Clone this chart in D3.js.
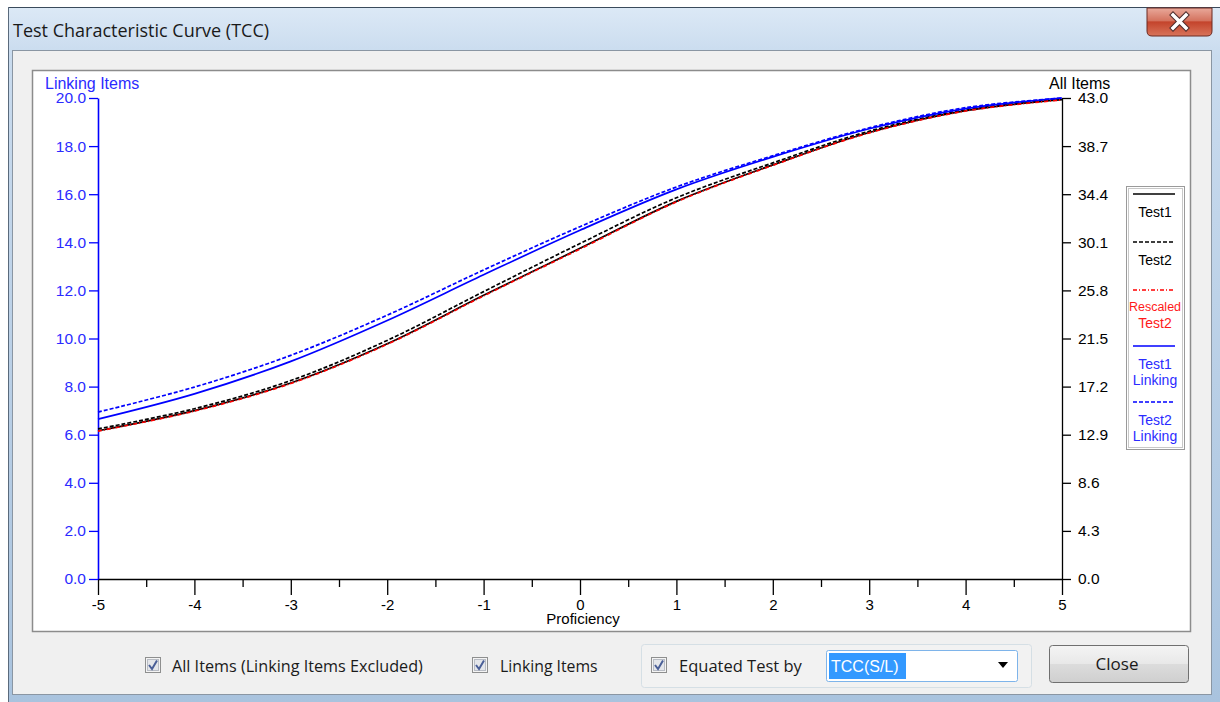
<!DOCTYPE html>
<html>
<head>
<meta charset="utf-8">
<script src="https://cdn.jsdelivr.net/npm/d3@7"></script>
<style>
  body { margin: 0; background: #fff; }
  svg { display: block; }
</style>
</head>
<body>
<svg id="svg1" width="1220" height="702"></svg>
<script>
// values
var proficiency = [-5, -4, -3, -2, -1, 0, 1, 2, 3, 4, 5];

// linking items, left axis (0 - 20)
var test1Linking = [6.65, 7.70, 9.05, 10.75, 12.65, 14.50, 16.20, 17.55, 18.72, 19.56, 20.0];
var test2Linking = [6.94, 7.98, 9.30, 10.97, 12.85, 14.65, 16.30, 17.60, 18.76, 19.60, 20.0];

// all items, right axis (0 - 43)
var test1All  = [13.25, 15.05, 17.52, 21.03, 25.36, 29.56, 33.76, 37.02, 39.92, 41.87, 42.86];
var test2All  = [13.42, 15.22, 17.74, 21.33, 25.69, 29.99, 34.08, 37.20, 40.03, 41.93, 42.91];
var rescaled2 = [13.22, 15.01, 17.48, 20.98, 25.31, 29.50, 33.71, 36.98, 39.88, 41.84, 42.83];

var leftTicks  = [0, 2, 4, 6, 8, 10, 12, 14, 16, 18, 20];
var rightTicks = [0, 4.3, 8.6, 12.9, 17.2, 21.5, 25.8, 30.1, 34.4, 38.7, 43.0];
var xTicks     = [-5, -4, -3, -2, -1, 0, 1, 2, 3, 4, 5];
var xMinor     = [-4.5, -3.5, -2.5, -1.5, -0.5, 0.5, 1.5, 2.5, 3.5, 4.5];

var series = [
  { name: "Test1",   values: test1All,     axis: "right", color: "#000", dash: null },
  { name: "Test2",   values: test2All,     axis: "right", color: "#000", dash: "4,2" },
  { name: "Rescaled Test2", values: rescaled2, axis: "right", color: "#ff0000", dash: "4,2,1,2" },
  { name: "Test1 Linking", values: test1Linking, axis: "left", color: "#0000ff", dash: null },
  { name: "Test2 Linking", values: test2Linking, axis: "left", color: "#0000ff", dash: "4,2" }
];

var svg = d3.select('svg');
var defs = svg.append('defs');

// ---- window chrome ----
var g1 = defs.append('linearGradient').attr('id', 'frame').attr('x1', 0).attr('y1', 0).attr('x2', 0).attr('y2', 1);
g1.append('stop').attr('offset', '0').attr('stop-color', '#dce9f6');
g1.append('stop').attr('offset', '0.07').attr('stop-color', '#c9dbee');
g1.append('stop').attr('offset', '1').attr('stop-color', '#a9c3de');

var g2 = defs.append('linearGradient').attr('id', 'xbtn').attr('x1', 0).attr('y1', 0).attr('x2', 0).attr('y2', 1);
g2.append('stop').attr('offset', '0').attr('stop-color', '#e9a99b');
g2.append('stop').attr('offset', '0.45').attr('stop-color', '#d4735f');
g2.append('stop').attr('offset', '0.5').attr('stop-color', '#c4442c');
g2.append('stop').attr('offset', '1').attr('stop-color', '#d8745a');

var g3 = defs.append('linearGradient').attr('id', 'btn').attr('x1', 0).attr('y1', 0).attr('x2', 0).attr('y2', 1);
g3.append('stop').attr('offset', '0').attr('stop-color', '#f4f4f4');
g3.append('stop').attr('offset', '0.5').attr('stop-color', '#e8e8e8');
g3.append('stop').attr('offset', '0.51').attr('stop-color', '#dcdcdc');
g3.append('stop').attr('offset', '1').attr('stop-color', '#cfcfcf');

svg.append('rect').attr('x', 8).attr('y', 7).attr('width', 1212).attr('height', 695)
   .attr('fill', 'url(#frame)');
svg.append('line').attr('x1', 8).attr('x2', 1220).attr('y1', 7.5).attr('y2', 7.5)
   .attr('stroke', '#3a4a5c').attr('stroke-width', 1);
svg.append('line').attr('x1', 8.5).attr('x2', 8.5).attr('y1', 7).attr('y2', 702)
   .attr('stroke', '#5a6a7c').attr('stroke-width', 1);

svg.append('text').attr('x', 13).attr('y', 37)
   .attr('font-family', 'Open Sans, Noto Sans, sans-serif').attr('font-size', 18)
   .attr('fill', '#1a1a1a').text('Test Characteristic Curve (TCC)');

// red close box
svg.append('path')
   .attr('d', 'M1147,8 H1212 V31 Q1212,36 1207,36 H1152 Q1147,36 1147,31 Z')
   .attr('fill', 'url(#xbtn)').attr('stroke', '#6b2a22').attr('stroke-width', 1);
svg.append('path').attr('d', 'M1173,15 L1186,28 M1186,15 L1173,28')
   .attr('stroke', '#4b2a2a').attr('stroke-width', 5.5).attr('stroke-linecap', 'square');
svg.append('path').attr('d', 'M1173,15 L1186,28 M1186,15 L1173,28')
   .attr('stroke', '#fff').attr('stroke-width', 3.5).attr('stroke-linecap', 'square');

// client area
svg.append('rect').attr('x', 12.5).attr('y', 50.5).attr('width', 1199).attr('height', 644)
   .attr('fill', '#f0f0f0').attr('stroke', '#8a96a3');

// chart panel
svg.append('rect').attr('x', 32.5).attr('y', 70.5).attr('width', 1158).attr('height', 561)
   .attr('fill', '#fff').attr('stroke', '#8c8c8c').attr('stroke-width', 1.5);

// ---- scales ----
var x = d3.scaleLinear().domain([-5, 5]).range([98, 1062]);
var yL = d3.scaleLinear().domain([0, 20]).range([579, 98]);
var yR = d3.scaleLinear().domain([0, 43]).range([579, 98]);

var tickFont = 'Liberation Sans, Arial, sans-serif';

// x axis minor ticks
svg.append('g').attr('transform', 'translate(0,579)')
   .call(d3.axisBottom(x).tickValues(xMinor).tickSize(8).tickFormat('').tickSizeOuter(0))
   .call(function(g) { g.select('.domain').remove(); })
   .selectAll('line').attr('stroke', '#000').attr('stroke-width', 1.3);

var xAxis = svg.append('g').attr('transform', 'translate(0,579)')
   .call(d3.axisBottom(x).tickValues(xTicks).tickSize(16).tickSizeOuter(0)
           .tickFormat(function(d) { return String(d); }));
xAxis.select('.domain').attr('stroke', '#000').attr('stroke-width', 1.3);
xAxis.selectAll('line').attr('stroke', '#000').attr('stroke-width', 1.3);
xAxis.selectAll('text').attr('y', 20).attr('font-family', tickFont).attr('font-size', 15).attr('fill', '#000');

svg.append('text').attr('x', 583).attr('y', 624).attr('text-anchor', 'middle')
   .attr('font-family', tickFont).attr('font-size', 15).attr('fill', '#000').text('Proficiency');

// left axis
var leftAxis = svg.append('g').attr('transform', 'translate(98,0)')
   .call(d3.axisLeft(yL).tickValues(leftTicks).tickSize(9).tickPadding(3).tickSizeOuter(0).tickFormat(d3.format('.1f')));
leftAxis.select('.domain').attr('stroke', '#0000ff').attr('stroke-width', 1.6);
leftAxis.selectAll('line').attr('stroke', '#0000ff').attr('stroke-width', 1.3);
leftAxis.selectAll('text').attr('font-family', tickFont).attr('font-size', 15.5).attr('fill', '#2b2bff');

svg.append('text').attr('x', 45).attr('y', 89)
   .attr('font-family', tickFont).attr('font-size', 16).attr('fill', '#2b2bff').text('Linking Items');

// right axis
var rightAxis = svg.append('g').attr('transform', 'translate(1062,0)')
   .call(d3.axisRight(yR).tickValues(rightTicks).tickSize(9).tickPadding(7).tickSizeOuter(0).tickFormat(d3.format('.1f')));
rightAxis.select('.domain').attr('stroke', '#000').attr('stroke-width', 1.3);
rightAxis.selectAll('line').attr('stroke', '#000').attr('stroke-width', 1.3);
rightAxis.selectAll('text').attr('font-family', tickFont).attr('font-size', 15.5).attr('fill', '#000');

svg.append('text').attr('x', 1049).attr('y', 89)
   .attr('font-family', tickFont).attr('font-size', 16).attr('fill', '#000').text('All Items');

// ---- curves ----
series.forEach(function(s) {
  var y = s.axis == 'left' ? yL : yR;
  var line = d3.line()
               .x(function(d, i) { return x(proficiency[i]); })
               .y(function(d) { return y(d); })
               .curve(d3.curveCatmullRom.alpha(0.5));
  svg.append('path')
     .datum(s.values)
     .attr('d', line)
     .attr('fill', 'none')
     .attr('stroke', s.color)
     .attr('stroke-width', 1.7)
     .attr('stroke-dasharray', s.dash);
});

// ---- legend ----
var legend = svg.append('g');
legend.append('rect').attr('x', 1126.5).attr('y', 186.5).attr('width', 58).attr('height', 263)
      .attr('fill', '#fff').attr('stroke', '#9a9a9a');
legend.append('rect').attr('x', 1128.5).attr('y', 188.5).attr('width', 54).attr('height', 259)
      .attr('fill', 'none').attr('stroke', '#c8c8c8');

var legendRows = [
  { lineY: 194, lines: [['Test1', 212, 14]] },
  { lineY: 242, lines: [['Test2', 260, 14]] },
  { lineY: 290, lines: [['Rescaled', 306, 12.5], ['Test2', 323, 14]] },
  { lineY: 346, lines: [['Test1', 364, 14], ['Linking', 380, 14]] },
  { lineY: 402, lines: [['Test2', 420, 14], ['Linking', 436, 14]] }
];

legendRows.forEach(function(r, i) {
  var s = series[i];
  legend.append('line').attr('x1', 1133).attr('x2', 1175).attr('y1', r.lineY).attr('y2', r.lineY)
        .attr('stroke', s.color).attr('stroke-width', 1.6).attr('stroke-dasharray', s.dash);
  r.lines.forEach(function(t) {
    legend.append('text').attr('x', 1155).attr('y', t[1] + 5).attr('text-anchor', 'middle')
          .attr('font-family', tickFont).attr('font-size', t[2]).attr('fill', s.color == '#000' ? '#000' : (s.color == '#ff0000' ? '#ff1a1a' : '#2b2bff'))
          .text(t[0]);
  });
});

// ---- bottom controls ----
var uiFont = 'Open Sans, Noto Sans, sans-serif';

function checkbox(cx, cy) {
  svg.append('rect').attr('x', cx + 0.5).attr('y', cy + 0.5).attr('width', 15).attr('height', 15)
     .attr('fill', '#f4f4f4').attr('stroke', '#8e8f8f');
  svg.append('rect').attr('x', cx + 2.5).attr('y', cy + 2.5).attr('width', 11).attr('height', 11)
     .attr('fill', '#e4e6ea').attr('stroke', '#b8bcc4');
  svg.append('path').attr('d', 'M' + (cx + 4) + ',' + (cy + 8) + ' L' + (cx + 7) + ',' + (cy + 12) + ' L' + (cx + 12) + ',' + (cy + 3.5))
     .attr('fill', 'none').attr('stroke', '#4a5f97').attr('stroke-width', 2);
}

function label(tx, text, size) {
  svg.append('text').attr('x', tx).attr('y', 672)
     .attr('font-family', uiFont).attr('font-size', size).attr('fill', '#1a1a1a').text(text);
}

checkbox(145, 657);
label(172, 'All Items (Linking Items Excluded)', 16.2);
checkbox(472, 657);
label(500, 'Linking Items', 15.8);

svg.append('rect').attr('x', 641.5).attr('y', 644.5).attr('width', 390).attr('height', 43).attr('rx', 3)
   .attr('fill', '#f2f2f2').attr('stroke', '#d5dfe5');
checkbox(651, 657);
label(679, 'Equated Test by', 16.5);

// combo box
svg.append('rect').attr('x', 826.5).attr('y', 650.5).attr('width', 191).attr('height', 31).attr('rx', 2)
   .attr('fill', '#fff').attr('stroke', '#7eb4ea');
svg.append('rect').attr('x', 829).attr('y', 653).attr('width', 77).attr('height', 26).attr('fill', '#3399ff');
svg.append('text').attr('x', 831).attr('y', 672)
   .attr('font-family', tickFont).attr('font-size', 16).attr('fill', '#fff').text('TCC(S/L)');
svg.append('path').attr('d', 'M998,662 L1008,662 L1003,668 Z').attr('fill', '#000');

// close button
svg.append('rect').attr('x', 1049.5).attr('y', 645.5).attr('width', 139).attr('height', 37).attr('rx', 3)
   .attr('fill', 'url(#btn)').attr('stroke', '#707070');
svg.append('text').attr('x', 1117).attr('y', 670).attr('text-anchor', 'middle')
   .attr('font-family', uiFont).attr('font-size', 17).attr('fill', '#1a1a1a').text('Close');
</script>
</body>
</html>
